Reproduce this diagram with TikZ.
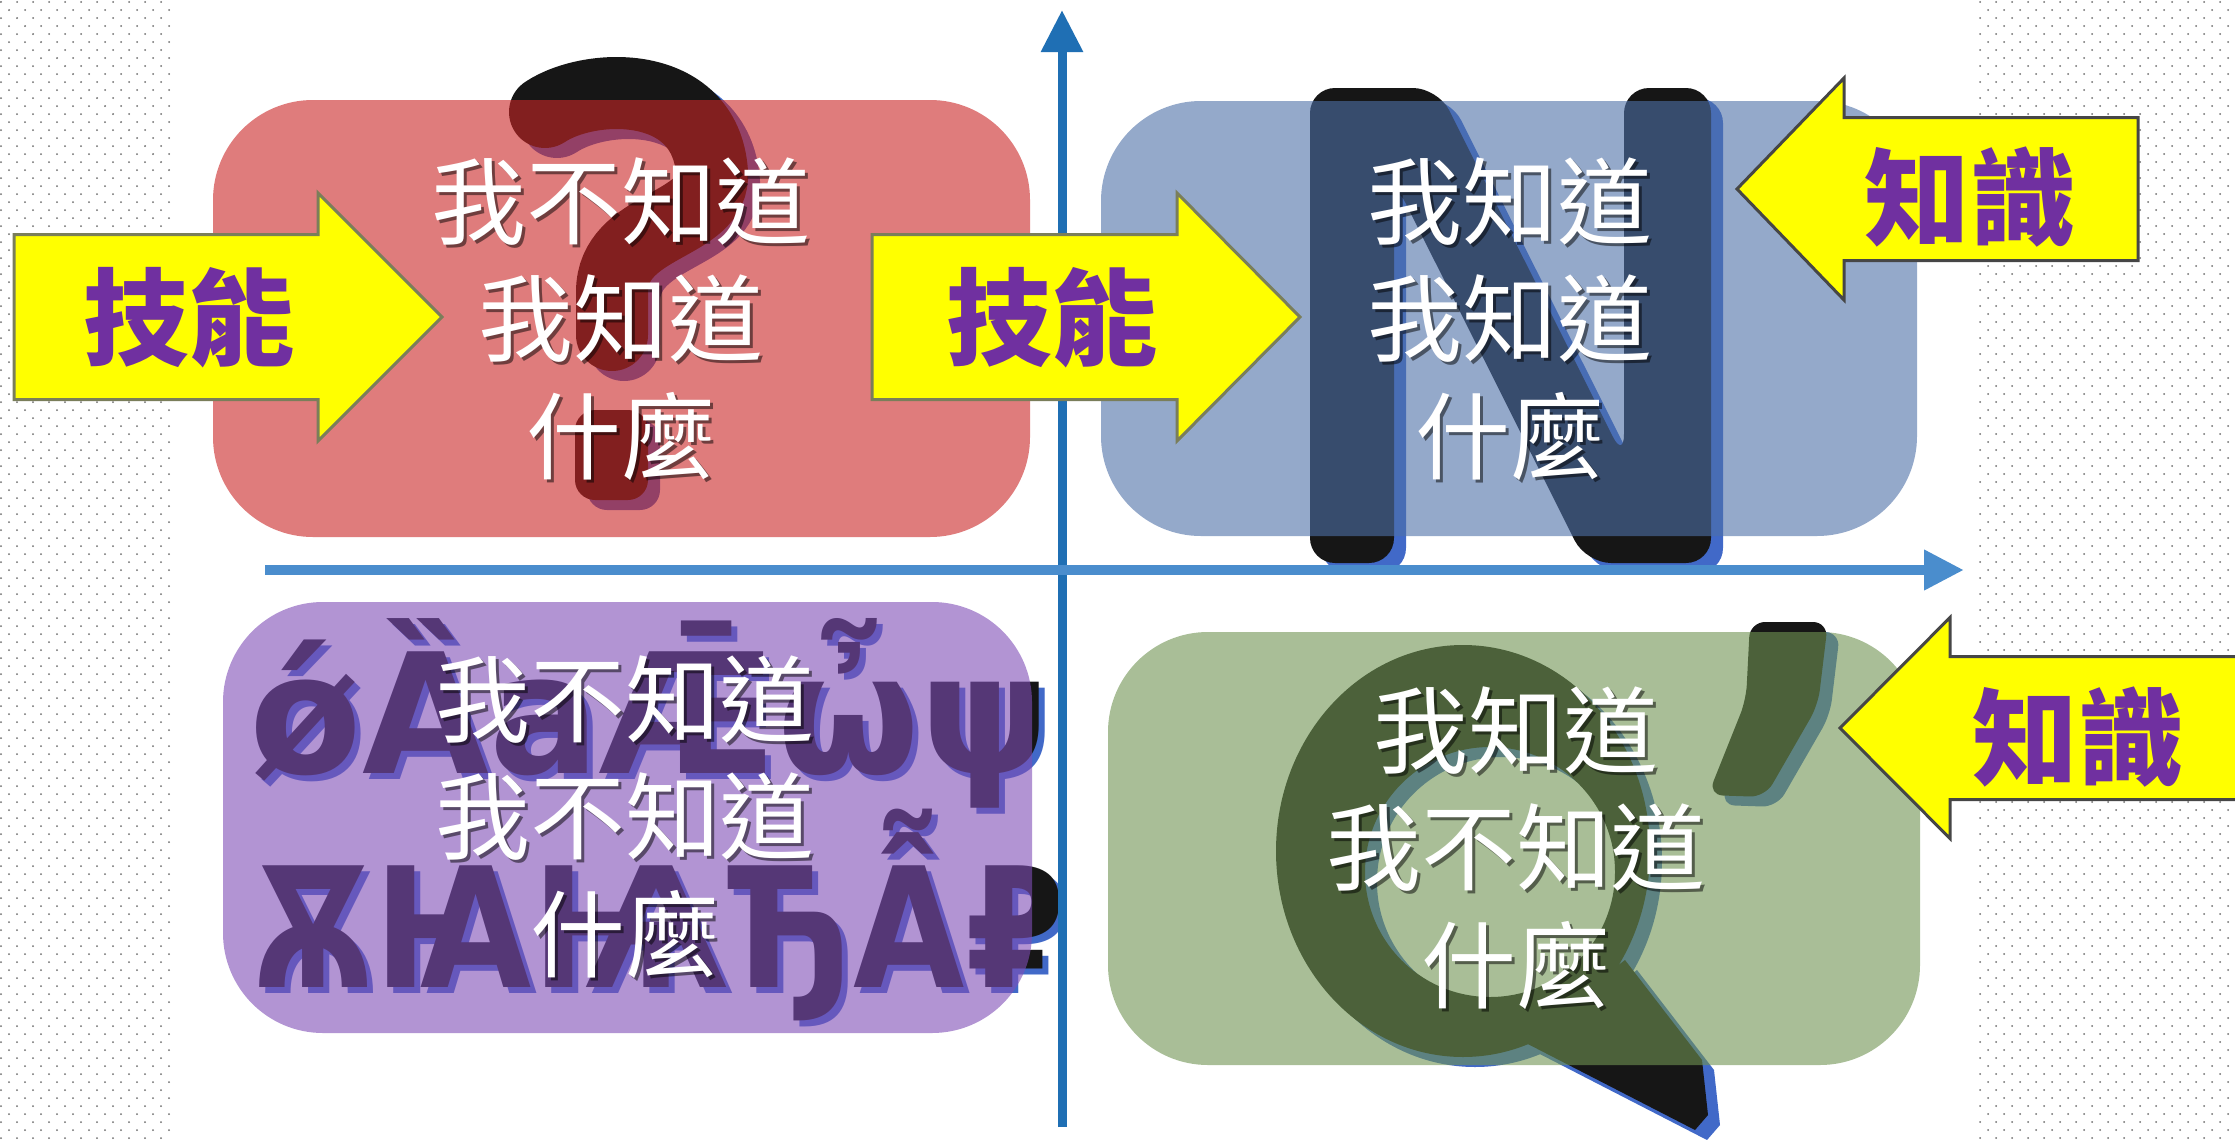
\documentclass[tikz,border=0pt]{standalone}
\usepackage{fontspec}
\usepackage{tikz}
\usetikzlibrary{arrows.meta}
\newfontfamily\cjk{Noto Sans CJK TC}
\newfontfamily\cjkheavy{Noto Sans CJK TC Black}
\newfontfamily\glyphs{DejaVu Sans}
\definecolor{dotgray}{RGB}{110, 110, 110}
\definecolor{redbox}{RGB}{203, 38, 38}
\definecolor{bluebox}{RGB}{78, 112, 168}
\definecolor{purplebox}{RGB}{127, 77, 183}
\definecolor{greenbox}{RGB}{112, 148, 83}
\definecolor{ink}{RGB}{22, 22, 22}
\definecolor{inkshadow}{RGB}{65, 105, 200}
\definecolor{axisdark}{RGB}{31, 111, 180}
\definecolor{axislight}{RGB}{74, 141, 205}
\definecolor{signyellow}{RGB}{255, 255, 0}
\definecolor{signolive}{RGB}{122, 126, 90}
\definecolor{signgray}{RGB}{70, 70, 70}
\definecolor{labelpurple}{RGB}{112, 48, 160}
\newcommand{\drawsign}[7]{
  % tail x, head base x, tip x, centre y, body half height, head half height, border
  \filldraw[fill=signyellow, draw=#7, line width=0.3mm]
       ({#1}, {#4 - #5}) -- ({#2}, {#4 - #5}) -- ({#2}, {#4 - #6})
    -- ({#3}, {#4}) -- ({#2}, {#4 + #6}) -- ({#2}, {#4 + #5})
    -- ({#1}, {#4 + #5}) -- cycle;
}
\newcommand{\rowa}{\scalebox{1.06}[1.08]{ǿȀaǢὦψ}}
\newcommand{\rowb}{\scalebox{0.93}[1.08]{ѪꙖѨЂẪ₽}}

\begin{document}
\begin{tikzpicture}[x=0.1mm, y=-0.1mm,
    boxtext/.style={font=\cjk\fontsize{27}{33.5}\selectfont, text=white, align=center, inner sep=0pt},
    boxshadow/.style={boxtext, text=black, opacity=0.5},
    signtext/.style={font=\cjkheavy\fontsize{30}{30}\selectfont, text=labelpurple, inner sep=0pt},
    glyphrow/.style={font=\glyphs\bfseries\fontsize{44}{44}\selectfont, anchor=base west, inner sep=0pt}]

  \useasboundingbox (0, 0) rectangle (2235, 1139);
  \fill[white] (0, 0) rectangle (2235, 1139);

  % dotted margins
  \foreach \r in {0, ..., 142} {
    \pgfmathsetmacro{\dotoff}{mod(\r, 2) * 8}
    \foreach \c in {0, ..., 10}
      \fill[dotgray] ({\c * 16 + \dotoff + 1}, {\r * 8 + 2}) circle (0.1mm);
    \foreach \c in {0, ..., 16}
      \fill[dotgray] ({1980 + \c * 16 + \dotoff}, {\r * 8 + 2}) circle (0.1mm);
  }

  % big letters behind the tinted boxes
  \foreach \dx/\dy/\col in {12/10/inkshadow, 0/0/ink} {
    \begin{scope}[shift={(\dx, \dy)}]
      \draw[\col, line width=7.2mm, line cap=round]
           (545, 112) .. controls (590, 82) and (705, 78) .. (712, 172)
        .. controls (716, 228) and (612, 222) .. (612, 292) -- (612, 335);
      \fill[\col, rounded corners=2mm] (575, 410) rectangle (648, 500);

      \fill[\col, rounded corners=2.5mm]
           (1310, 563) -- (1310, 88) -- (1438, 88) -- (1624, 459) -- (1624, 88)
        -- (1711, 88) -- (1711, 563) -- (1586, 563) -- (1394, 180) -- (1394, 563) -- cycle;

      \fill[\col, even odd rule] (1463, 851) ellipse [x radius=18.7mm, y radius=20.6mm]
                                 (1490, 872) ellipse [x radius=12.5mm, y radius=12.5mm];
      \fill[\col] (1520, 1040) -- (1695, 1130) -- (1708, 1115) -- (1702, 1060) -- (1625, 960) -- cycle;
      \fill[\col, rounded corners=1.5mm]
           (1750, 622) -- (1828, 622) -- (1818, 705) -- (1765, 797) -- (1708, 795)
        -- (1746, 700) -- cycle;
    \end{scope}
  }
  \node[glyphrow, inkshadow] (rowa-shadow) at (255, 779) {\rowa};
  \node[glyphrow, ink] (rowa) at (249, 773) {\rowa};
  \node[glyphrow, inkshadow] (rowb-shadow) at (258, 993) {\rowb};
  \node[glyphrow, ink] (rowb) at (252, 987) {\rowb};

  % axes
  \coordinate (yaxis-foot) at (1062, 1127);
  \coordinate (yaxis-tip) at (1062, 10);
  \coordinate (xaxis-foot) at (265, 570);
  \coordinate (xaxis-tip) at (1964, 570);
  \draw[axisdark, line width=0.9mm, -{Triangle[width=4mm, length=4.2mm]}] (yaxis-foot) -- (yaxis-tip);
  \draw[axislight, line width=1mm, -{Triangle[width=3.8mm, length=4mm]}] (xaxis-foot) -- (xaxis-tip);

  % tinted quadrants
  \fill[redbox, opacity=0.6, rounded corners=10mm] (213, 100) rectangle (1030, 537);
  \fill[bluebox, opacity=0.6, rounded corners=10mm] (1101, 101) rectangle (1917, 536);
  \fill[purplebox, opacity=0.6, rounded corners=10mm] (223, 602) rectangle (1032, 1033);
  \fill[greenbox, opacity=0.6, rounded corners=10mm] (1108, 632) rectangle (1920, 1065);

  \node[boxshadow] (red-shadow) at (624, 322) {我不知道\\我知道\\什麼};
  \node[boxtext] (red-text) at (621, 319) {我不知道\\我知道\\什麼};
  \node[boxshadow] (blue-shadow) at (1513, 322) {我知道\\我知道\\什麼};
  \node[boxtext] (blue-text) at (1510, 319) {我知道\\我知道\\什麼};
  \node[boxshadow] (purple-shadow) at (628, 820) {我不知道\\我不知道\\什麼};
  \node[boxtext] (purple-text) at (625, 817) {我不知道\\我不知道\\什麼};
  \node[boxshadow] (green-shadow) at (1519, 851) {我知道\\我不知道\\什麼};
  \node[boxtext] (green-text) at (1516, 848) {我知道\\我不知道\\什麼};

  % yellow signs
  \drawsign{14}{318}{442}{317}{82.5}{124}{signolive}
  \drawsign{872}{1177}{1300}{317}{82.5}{124}{signolive}
  \drawsign{2138}{1844}{1737}{189}{71.5}{111}{signgray}
  \drawsign{2260}{1950}{1840}{728}{71.5}{110.5}{signgray}
  \node[signtext] (skill-left) at (189, 318) {技能};
  \node[signtext] (skill-mid) at (1052, 318) {技能};
  \node[signtext] (know-top) at (1970, 197) {知識};
  \node[signtext] (know-bottom) at (2078, 737) {知識};

\end{tikzpicture}
\end{document}
